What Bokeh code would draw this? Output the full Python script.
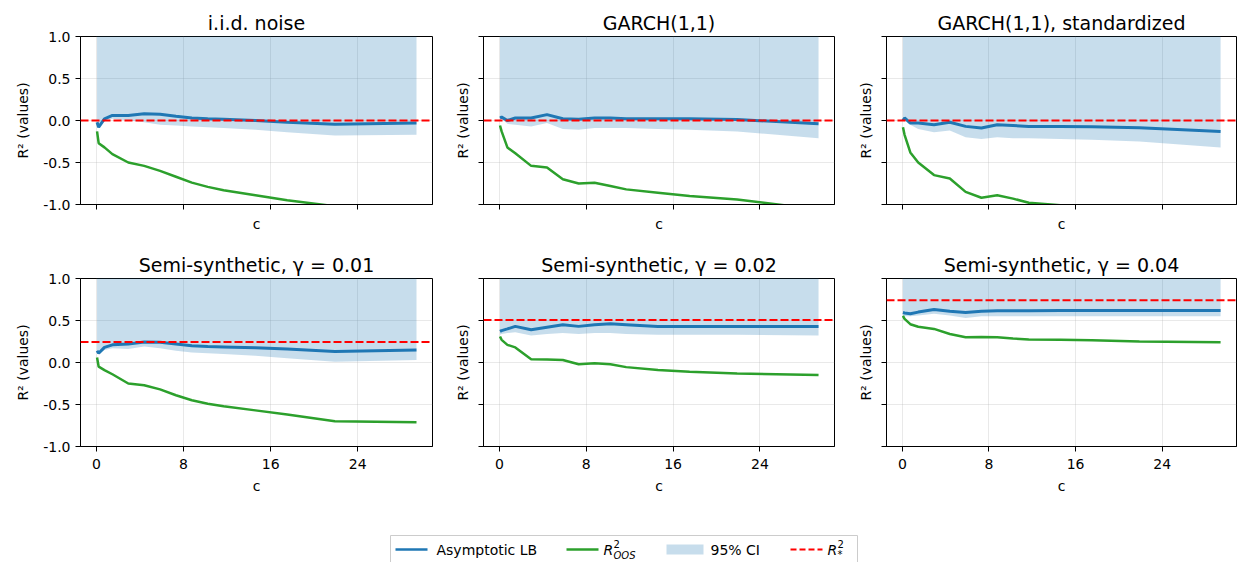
from bokeh.plotting import figure
from bokeh.layouts import column, row
from bokeh.models import Range1d, FixedTicker, PrintfTickFormatter, Span
from bokeh.embed import file_html
from bokeh.resources import INLINE
from bokeh.core.properties import value

# ---------------- data ----------------
c = [0.05, 0.2, 0.73, 1.46, 2.92, 4.38, 5.84, 7.3, 8.76, 10.22, 11.68, 14.6, 17.52, 21.9, 29.4]

titles = ["i.i.d. noise", "GARCH(1,1)", "GARCH(1,1), standardized",
          "Semi-synthetic, γ = 0.01", "Semi-synthetic, γ = 0.02", "Semi-synthetic, γ = 0.04"]

lb_iid = [-0.02, -0.08, 0.02, 0.06, 0.06, 0.08, 0.075, 0.05, 0.03, 0.02, 0.015, 0.0, -0.02, -0.045, -0.03]
oos_iid = [-0.13, -0.27, -0.32, -0.40, -0.50, -0.54, -0.60, -0.67, -0.74, -0.79, -0.83, -0.89, -0.95, -1.02, -1.15]
ci_lo_iid = [-0.02, -0.08, 0.0, 0.02, 0.0, -0.02, -0.05, -0.06, -0.07, -0.08, -0.09, -0.11, -0.14, -0.18, -0.17]
ci_hi_iid = [1.6, 1.5, 1.45, 1.4, 1.35, 1.3, 1.28, 1.26, 1.24, 1.22, 1.2, 1.18, 1.16, 1.14, 1.12]

lb_garch = [0.03, 0.04, 0.0, 0.03, 0.03, 0.07, 0.02, 0.016, 0.03, 0.03, 0.02, 0.02, 0.02, 0.012, -0.04]
oos_garch = [-0.06, -0.13, -0.32, -0.39, -0.54, -0.56, -0.70, -0.75, -0.74, -0.78, -0.82, -0.86, -0.90, -0.94, -1.06]
ci_lo_garch = [0.0, 0.02, -0.04, -0.05, -0.07, -0.03, -0.10, -0.11, -0.09, -0.09, -0.09, -0.10, -0.11, -0.13, -0.21]
ci_hi_garch = [1.6, 1.5, 1.45, 1.4, 1.35, 1.3, 1.28, 1.26, 1.24, 1.22, 1.2, 1.18, 1.16, 1.14, 1.12]

lb_std = [0.0, 0.03, -0.03, -0.03, -0.05, -0.02, -0.07, -0.09, -0.05, -0.06, -0.07, -0.07, -0.075, -0.085, -0.13]
oos_std = [-0.08, -0.17, -0.38, -0.50, -0.65, -0.69, -0.85, -0.92, -0.89, -0.93, -0.98, -1.01, -1.06, -1.12, -1.25]
ci_lo_std = [0.0, 0.0, -0.05, -0.10, -0.14, -0.12, -0.20, -0.22, -0.20, -0.21, -0.21, -0.22, -0.23, -0.25, -0.32]
ci_hi_std = [1.6, 1.5, 1.45, 1.4, 1.35, 1.3, 1.28, 1.26, 1.24, 1.22, 1.2, 1.18, 1.16, 1.14, 1.12]

lb_g01 = [0.14, 0.11, 0.18, 0.21, 0.22, 0.245, 0.24, 0.22, 0.20, 0.19, 0.185, 0.175, 0.16, 0.13, 0.15]
oos_g01 = [0.06, -0.05, -0.09, -0.14, -0.25, -0.27, -0.32, -0.39, -0.45, -0.49, -0.52, -0.57, -0.62, -0.70, -0.71]
ci_lo_g01 = [0.12, 0.10, 0.15, 0.17, 0.16, 0.19, 0.17, 0.14, 0.12, 0.11, 0.10, 0.08, 0.05, 0.01, 0.03]
ci_hi_g01 = [1.6, 1.5, 1.45, 1.4, 1.35, 1.3, 1.28, 1.26, 1.24, 1.22, 1.2, 1.18, 1.16, 1.14, 1.12]

lb_g02 = [0.37, 0.38, 0.40, 0.43, 0.39, 0.42, 0.45, 0.43, 0.45, 0.46, 0.45, 0.43, 0.43, 0.43, 0.43]
oos_g02 = [0.31, 0.27, 0.21, 0.18, 0.04, 0.035, 0.03, -0.02, -0.01, -0.02, -0.055, -0.09, -0.11, -0.13, -0.15]
ci_lo_g02 = [0.33, 0.34, 0.35, 0.36, 0.32, 0.34, 0.35, 0.34, 0.35, 0.35, 0.34, 0.33, 0.33, 0.33, 0.32]
ci_hi_g02 = [1.6, 1.5, 1.45, 1.4, 1.35, 1.3, 1.28, 1.26, 1.24, 1.22, 1.2, 1.18, 1.16, 1.14, 1.12]

lb_g04 = [0.595, 0.59, 0.58, 0.60, 0.63, 0.61, 0.595, 0.61, 0.615, 0.615, 0.615, 0.62, 0.62, 0.62, 0.62]
oos_g04 = [0.556, 0.52, 0.456, 0.425, 0.40, 0.34, 0.30, 0.305, 0.30, 0.285, 0.275, 0.27, 0.265, 0.25, 0.24]
ci_lo_g04 = [0.55, 0.55, 0.55, 0.56, 0.58, 0.56, 0.53, 0.55, 0.55, 0.55, 0.55, 0.55, 0.55, 0.55, 0.55]
ci_hi_g04 = [1.6, 1.5, 1.45, 1.4, 1.35, 1.3, 1.28, 1.26, 1.24, 1.22, 1.2, 1.18, 1.16, 1.14, 1.12]

r2_star = [0.0, 0.0, 0.0, 0.245, 0.505, 0.742]

x_ticks = [0, 8, 16, 24]
y_ticks = [-1.0, -0.5, 0.0, 0.5, 1.0]

series = [
    (lb_iid, oos_iid, ci_lo_iid, ci_hi_iid),
    (lb_garch, oos_garch, ci_lo_garch, ci_hi_garch),
    (lb_std, oos_std, ci_lo_std, ci_hi_std),
    (lb_g01, oos_g01, ci_lo_g01, ci_hi_g01),
    (lb_g02, oos_g02, ci_lo_g02, ci_hi_g02),
    (lb_g04, oos_g04, ci_lo_g04, ci_hi_g04),
]

# ---------------- styling ----------------
BLUE = "#1f77b4"
GREEN = "#2ca02c"
RED = "#ff0000"
FONT = "DejaVu Sans"

col_w = [440, 403, 395]
col_left = [80, 43, 43]
col_right = [8, 9, 2]
row_h = [242, 278]
row_bottom = [38, 74]
TOP = 36


def make_panel(idx):
    r, ccol = divmod(idx, 3)
    lb, oos, lo, hi = series[idx]
    p = figure(width=col_w[ccol], height=row_h[r],
               x_range=Range1d(-1.47, 30.87), y_range=Range1d(-1.0, 1.0),
               output_backend="svg", toolbar_location=None,
               min_border_left=col_left[ccol], min_border_right=col_right[ccol],
               min_border_top=TOP, min_border_bottom=row_bottom[r],
               background_fill_color="white", border_fill_color="white")
    p.title.text = titles[idx]
    p.title.text_font = FONT
    p.title.text_font_size = "19px"
    p.title.text_font_style = "normal"
    p.title.text_color = "black"
    p.title.align = "center"
    p.title.standoff = 5

    p.outline_line_color = "black"
    p.outline_line_alpha = 1.0
    p.outline_line_width = 1

    p.varea(x=c, y1=lo, y2=hi, fill_color=BLUE, fill_alpha=0.25)
    p.line(c, lb, line_color=BLUE, line_width=3)
    p.line(c, oos, line_color=GREEN, line_width=2.5)
    p.add_layout(Span(location=r2_star[idx], dimension="width", line_color=RED,
                      line_width=2, line_dash="8 3"))

    for ax in (p.xaxis[0], p.yaxis[0]):
        ax.axis_line_color = "black"
        ax.major_tick_line_color = "black"
        ax.major_tick_out = 5
        ax.major_tick_in = 0
        ax.minor_tick_line_color = None
        ax.major_label_text_font = FONT
        ax.major_label_text_font_size = "14px"
        ax.major_label_text_color = "black"
        ax.axis_label_text_font = FONT
        ax.axis_label_text_font_size = "14px"
        ax.axis_label_text_font_style = "normal"
        ax.axis_label_text_color = "black"

    p.xaxis.ticker = FixedTicker(ticks=x_ticks)
    p.yaxis.ticker = FixedTicker(ticks=y_ticks)
    p.yaxis.formatter = PrintfTickFormatter(format="%.1f")
    p.xaxis.axis_label = "c"
    p.yaxis.axis_label = "R² (values)"

    if r == 0:
        # shared x: ticks kept, labels hidden
        p.xaxis.major_label_text_font_size = "0px"
        p.xaxis.major_label_standoff = 0
        p.xaxis.axis_label_standoff = 6
    else:
        p.xaxis.major_label_standoff = 7
        p.xaxis.axis_label_standoff = 6
    if ccol != 0:
        p.yaxis.major_label_text_font_size = "0px"
        p.yaxis.major_label_standoff = 0
        p.yaxis.axis_label_standoff = 8
    else:
        p.yaxis.major_label_standoff = 5
        p.yaxis.axis_label_standoff = 9

    p.grid.grid_line_color = "#b0b0b0"
    p.grid.grid_line_alpha = 0.35
    p.grid.grid_line_width = 0.8
    return p


panels = [make_panel(i) for i in range(6)]

# ---------------- legend ----------------
leg = figure(width=1238, height=42, x_range=Range1d(0, 1238), y_range=Range1d(0, 42),
             output_backend="svg", toolbar_location=None, min_border=0,
             background_fill_color="white", border_fill_color="white")
leg.axis.visible = False
leg.grid.visible = False
leg.outline_line_color = None

leg.quad(left=[390], right=[857], top=[27], bottom=[-5], fill_color="white",
         line_color="#cccccc", line_width=1)
leg.line([395, 427], [13, 13], line_color=BLUE, line_width=2.5)
leg.line([566, 598], [13, 13], line_color=GREEN, line_width=2.5)
leg.quad(left=[666], right=[703], top=[18], bottom=[8], fill_color=BLUE,
         fill_alpha=0.25, line_color=None)
leg.line([790, 822], [13, 13], line_color=RED, line_width=2, line_dash="6 3")

def ltext(x, y, s, size="14px", style="normal"):
    leg.text(x=[x], y=[y], text=[s], text_font=value(FONT), text_font_size=size,
             text_font_style=style, text_baseline="middle", text_align="left",
             text_color="black")

ltext(436, 13, "Asymptotic LB")
ltext(603, 13, "R", style="italic")
ltext(613, 19, "2", size="10px")
ltext(613, 7, "OOS", size="10px", style="italic")
ltext(710, 13, "95% CI")
ltext(827, 13, "R", style="italic")
ltext(837, 19, "2", size="10px")
ltext(837, 8, "*", size="10px")

layout = column(row(*panels[:3]), row(*panels[3:]), leg)

open("out.html", "w").write(file_html(layout, INLINE))
